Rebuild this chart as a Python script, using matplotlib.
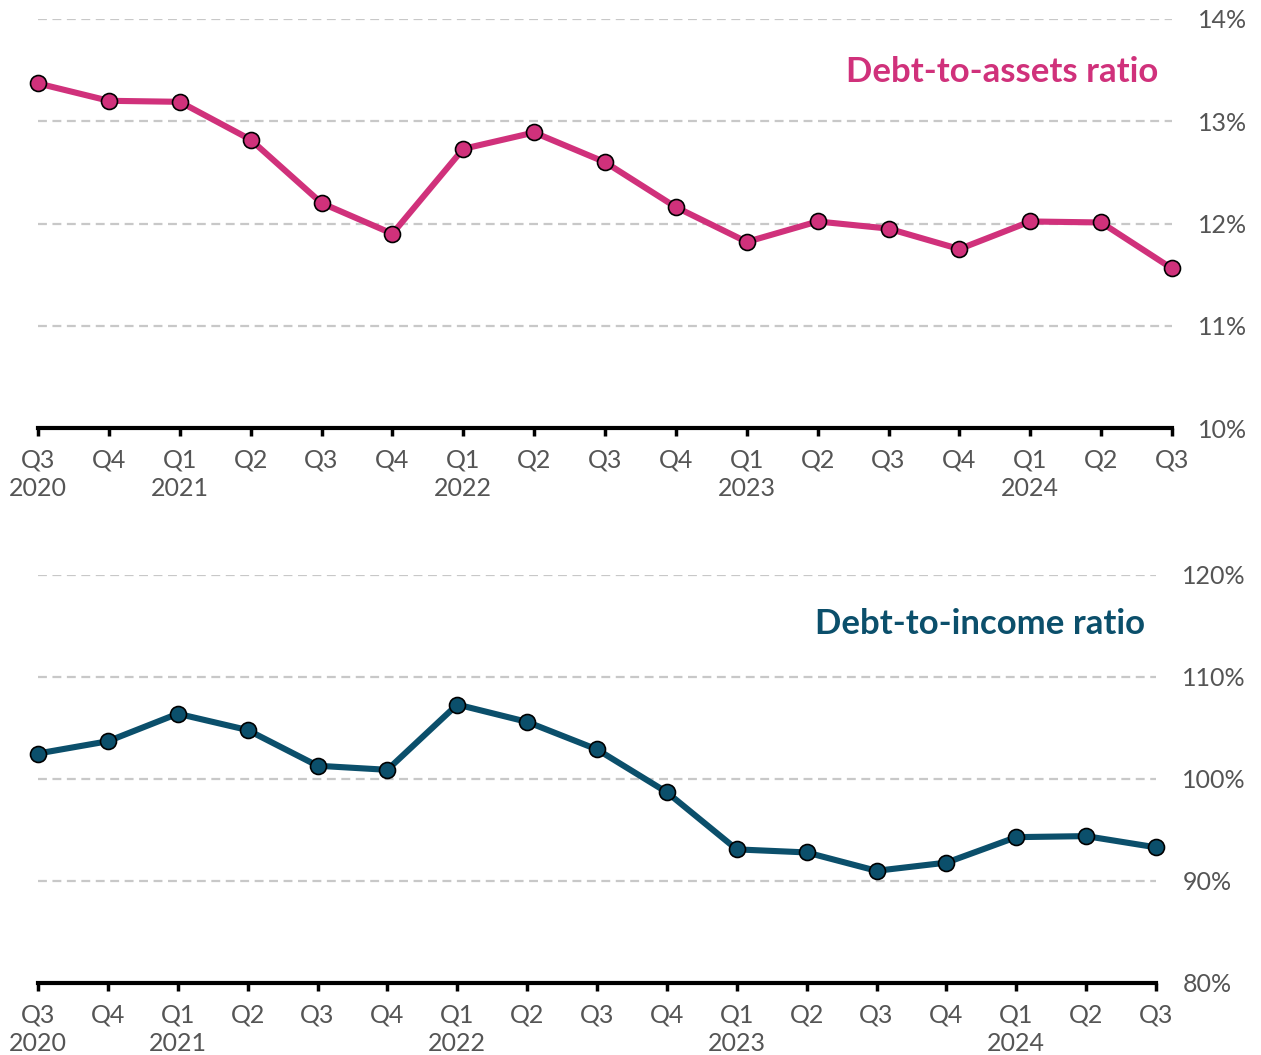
import matplotlib.pyplot as plt
from matplotlib.ticker import FuncFormatter

plt.rcParams['font.family'] = ['Lato', 'DejaVu Sans']

# data
quarters = ['Q3', 'Q4', 'Q1', 'Q2', 'Q3', 'Q4', 'Q1', 'Q2', 'Q3',
            'Q4', 'Q1', 'Q2', 'Q3', 'Q4', 'Q1', 'Q2', 'Q3']
years = ['2020', '', '2021', '', '', '', '2022', '', '',
         '', '2023', '', '', '', '2024', '', '']
debt_to_assets = [13.37, 13.20, 13.19, 12.82, 12.20, 11.90, 12.73, 12.89, 12.60,
                  12.16, 11.82, 12.02, 11.95, 11.75, 12.02, 12.01, 11.56]
debt_to_income = [102.5, 103.7, 106.4, 104.8, 101.3, 100.9, 107.3, 105.6, 102.9,
                  98.7, 93.1, 92.8, 91.0, 91.8, 94.3, 94.4, 93.3]

pink = '#d0317b'
teal = '#0b4f6b'
grey_txt = '#555555'

W, H = 1261, 1055
fig = plt.figure(figsize=(W / 100, H / 100), dpi=100)


def px_axes(x0, x1, ytop, ybot):
    return fig.add_axes([x0 / W, 1 - ybot / H, (x1 - x0) / W, (ybot - ytop) / H])


ax1 = px_axes(38, 1172, 19, 428)
ax2 = px_axes(38, 1156, 575, 983)

labels = [q + ('\n' + y if y else '') for q, y in zip(quarters, years)]
xs = list(range(len(quarters)))

panels = [
    (ax1, debt_to_assets, pink, (10, 14), [10, 11, 12, 13, 14], 'Debt-to-assets ratio', 0.9875, 0.87),
    (ax2, debt_to_income, teal, (80, 120), [80, 90, 100, 110, 120], 'Debt-to-income ratio', 0.99, 0.88),
]

for ax, vals, col, ylim, yticks, title, tx, ty in panels:
    ax.plot(xs, vals, color=col, lw=4.4, marker='o', ms=11.5,
            mfc=col, mec='black', mew=1.2, clip_on=False, zorder=5)
    ax.set_xlim(0, len(xs) - 1)
    ax.set_ylim(*ylim)
    ax.set_yticks(yticks)
    ax.yaxis.set_major_formatter(FuncFormatter(lambda v, p: f'{v:.0f}%'))
    ax.yaxis.tick_right()
    ax.tick_params(axis='y', length=0, pad=19, labelsize=18, labelcolor=grey_txt)
    ax.set_xticks(xs)
    ax.set_xticklabels(labels, linespacing=1.28)
    ax.tick_params(axis='x', length=6, width=2.5, color='black', pad=9,
                   labelsize=18, labelcolor=grey_txt)
    ax.grid(axis='y', color='#c8c8c8', lw=1.6, linestyle=(0, (4, 2.5)))
    ax.set_axisbelow(True)
    for s in ['top', 'left', 'right']:
        ax.spines[s].set_visible(False)
    ax.spines['bottom'].set_linewidth(3)
    ax.spines['bottom'].set_zorder(6)
    ax.text(tx, ty, title, transform=ax.transAxes, ha='right', va='center',
            color=col, fontsize=25, fontweight='bold')

fig.savefig('out.png', dpi=100)
